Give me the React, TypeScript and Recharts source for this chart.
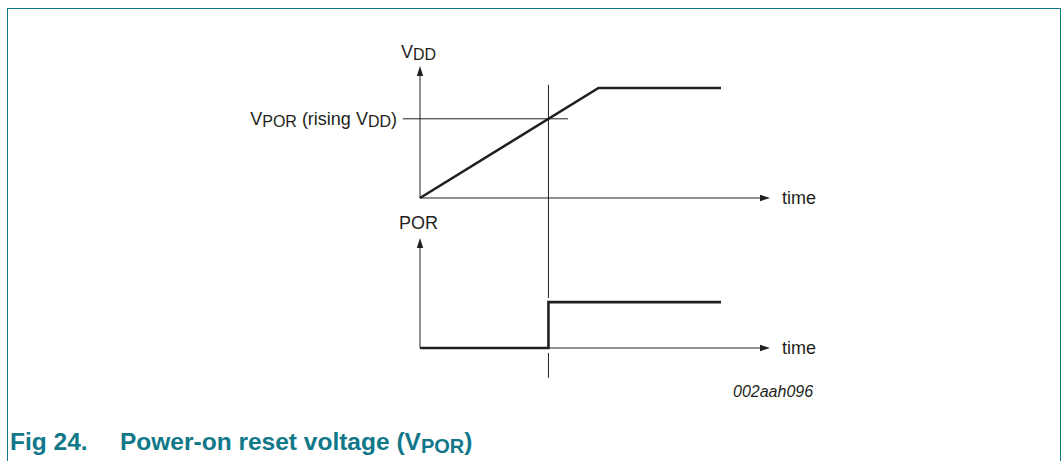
import React from "react";
import { LineChart, Line, XAxis, YAxis, ReferenceLine } from "recharts";

// timing values (arbitrary time units, normalised levels)
const vddTime = [0, 5.1, 8.6];
const vddLevel = [0, 1, 1];
const porTime = [0, 3.67, 3.67, 8.6];
const porLevel = [0, 0, 1, 1];
const VPOR_LEVEL = 0.72;
const TRIP_TIME = 3.67;

const TIME_MAX = 10;
const VDD_AXIS_MAX = 1.2;
const POR_AXIS_MAX = 2.4;

const INK = "#231f20";
const TEAL = "#11788a";
const W = 1063;
const H = 461;

const vddData = vddTime.map((t, i) => ({ t, v: vddLevel[i] }));
const porData = porTime.map((t, i) => ({ t, p: porLevel[i] }));

// axis line with a filled arrow head at the second point
const ArrowLine = (props: any) => {
  const { x1, y1, x2, y2 } = props;
  const dx = x2 - x1;
  const dy = y2 - y1;
  const len = Math.hypot(dx, dy) || 1;
  const ux = dx / len;
  const uy = dy / len;
  const head = 10;
  const half = 3.2;
  const bx = x2 - ux * head;
  const by = y2 - uy * head;
  const pts = `${x2},${y2} ${bx - uy * half},${by + ux * half} ${bx + uy * half},${by - ux * half}`;
  return (
    <g>
      <line x1={x1} y1={y1} x2={bx} y2={by} stroke={INK} strokeWidth={1} />
      <polygon points={pts} fill={INK} />
    </g>
  );
};

const layer: React.CSSProperties = { position: "absolute", left: 0, top: 0 };

export default function App() {
  return (
    <div style={{ position: "absolute", left: 0, top: 0, width: W, height: H, overflow: "hidden", background: "#fff", fontFamily: "Arial, 'Liberation Sans', sans-serif" }}>
      <div
        style={{
          position: "absolute",
          left: 7,
          top: 8,
          width: 1052,
          height: 470,
          borderTop: `1.5px solid ${TEAL}`,
          borderLeft: `1.5px solid ${TEAL}`,
          borderRight: `1.5px solid ${TEAL}`,
        }}
      />

      {/* V_DD ramp */}
      <div style={layer}>
        <LineChart width={W} height={H} data={vddData} margin={{ top: 66, right: 293, bottom: 263, left: 420 }}>
          <XAxis type="number" dataKey="t" domain={[0, TIME_MAX]} hide />
          <YAxis type="number" domain={[0, VDD_AXIS_MAX]} hide />
          <ReferenceLine segment={[{ x: 0, y: 0 }, { x: TIME_MAX, y: 0 }]} ifOverflow="visible" shape={ArrowLine} />
          <ReferenceLine segment={[{ x: 0, y: 0 }, { x: 0, y: VDD_AXIS_MAX }]} ifOverflow="visible" shape={ArrowLine} />
          <ReferenceLine segment={[{ x: -0.49, y: VPOR_LEVEL }, { x: 4.23, y: VPOR_LEVEL }]} ifOverflow="visible" stroke={INK} strokeWidth={1} />
          <ReferenceLine segment={[{ x: TRIP_TIME, y: 1.03 }, { x: TRIP_TIME, y: -0.91 }]} ifOverflow="visible" stroke={INK} strokeWidth={1} />
          <Line type="linear" dataKey="v" stroke={INK} strokeWidth={2.6} dot={false} isAnimationActive={false} />
        </LineChart>
      </div>

      {/* POR output */}
      <div style={layer}>
        <LineChart width={W} height={H} data={porData} margin={{ top: 238, right: 293, bottom: 113, left: 420 }}>
          <XAxis type="number" dataKey="t" domain={[0, TIME_MAX]} hide />
          <YAxis type="number" domain={[0, POR_AXIS_MAX]} hide />
          <ReferenceLine segment={[{ x: 0, y: 0 }, { x: TIME_MAX, y: 0 }]} ifOverflow="visible" shape={ArrowLine} />
          <ReferenceLine segment={[{ x: 0, y: 0 }, { x: 0, y: POR_AXIS_MAX }]} ifOverflow="visible" shape={ArrowLine} />
          <ReferenceLine segment={[{ x: TRIP_TIME, y: -0.11 }, { x: TRIP_TIME, y: -0.65 }]} ifOverflow="visible" stroke={INK} strokeWidth={1} />
          <Line type="linear" dataKey="p" stroke={INK} strokeWidth={2.6} dot={false} isAnimationActive={false} />
        </LineChart>
      </div>

      {/* labels */}
      <svg width={W} height={H} style={layer}>
        <g fill={INK} fontSize={18}>
          <text x={401} y={58}>
            V<tspan fontSize={16} dy={2.4}>DD</tspan>
          </text>
          <text x={397} y={125} textAnchor="end">
            V<tspan fontSize={16} dy={2.4}>POR</tspan>
            <tspan dy={-2.4}> (rising V</tspan>
            <tspan fontSize={16} dy={2.4}>DD</tspan>
            <tspan dy={-2.4}>)</tspan>
          </text>
          <text x={782} y={203.5}>time</text>
          <text x={438} y={229} textAnchor="end">POR</text>
          <text x={782} y={354}>time</text>
          <text x={733} y={397} fontSize={16} fontStyle="italic">002aah096</text>
        </g>
        <g fill={TEAL} fontSize={24.5} fontWeight="bold">
          <text x={10} y={450}>Fig 24.</text>
          <text x={120} y={450}>
            Power-on reset voltage (V<tspan fontSize={20} dy={3}>POR</tspan>
            <tspan dy={-3}>)</tspan>
          </text>
        </g>
      </svg>
    </div>
  );
}
